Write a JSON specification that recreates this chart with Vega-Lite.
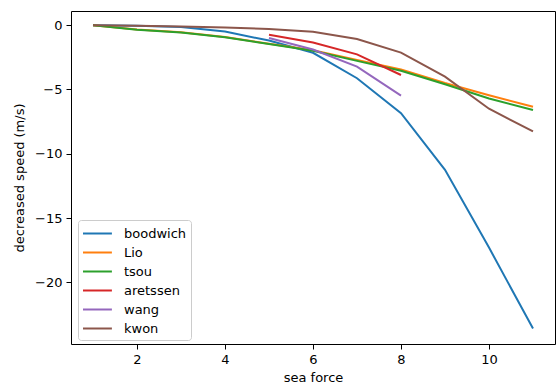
{
  "$schema": "https://vega.github.io/schema/vega-lite/v6.json",
  "width": 484,
  "height": 333,
  "autosize": "none",
  "padding": {"left": 71, "top": 11, "right": 1, "bottom": 39},
  "background": "white",
  "config": {
    "font": "DejaVu Sans",
    "view": {"stroke": "#000000", "strokeWidth": 1},
    "axis": {
      "grid": false,
      "domain": false,
      "tickColor": "#000000",
      "tickSize": 5,
      "tickWidth": 1,
      "labelFont": "DejaVu Sans",
      "labelFontSize": 13,
      "labelColor": "#000000",
      "titleFont": "DejaVu Sans",
      "titleFontSize": 13,
      "titleFontWeight": "normal",
      "titleColor": "#000000",
      "labelPadding": 4
    }
  },
  "data": {
    "values": [
      {"force": 1, "speed": 0, "author": "boodwich"},
      {"force": 2, "speed": -0.05, "author": "boodwich"},
      {"force": 3, "speed": -0.15, "author": "boodwich"},
      {"force": 4, "speed": -0.5, "author": "boodwich"},
      {"force": 5, "speed": -1.2, "author": "boodwich"},
      {"force": 6, "speed": -2.15, "author": "boodwich"},
      {"force": 7, "speed": -4.13, "author": "boodwich"},
      {"force": 8, "speed": -6.85, "author": "boodwich"},
      {"force": 9, "speed": -11.25, "author": "boodwich"},
      {"force": 10, "speed": -17.3, "author": "boodwich"},
      {"force": 11, "speed": -23.6, "author": "boodwich"},
      {"force": 1, "speed": 0, "author": "Lio"},
      {"force": 2, "speed": -0.33, "author": "Lio"},
      {"force": 3, "speed": -0.55, "author": "Lio"},
      {"force": 4, "speed": -0.93, "author": "Lio"},
      {"force": 5, "speed": -1.45, "author": "Lio"},
      {"force": 6, "speed": -1.95, "author": "Lio"},
      {"force": 7, "speed": -2.7, "author": "Lio"},
      {"force": 8, "speed": -3.45, "author": "Lio"},
      {"force": 9, "speed": -4.5, "author": "Lio"},
      {"force": 10, "speed": -5.45, "author": "Lio"},
      {"force": 11, "speed": -6.35, "author": "Lio"},
      {"force": 1, "speed": 0, "author": "tsou"},
      {"force": 2, "speed": -0.35, "author": "tsou"},
      {"force": 3, "speed": -0.58, "author": "tsou"},
      {"force": 4, "speed": -0.95, "author": "tsou"},
      {"force": 5, "speed": -1.47, "author": "tsou"},
      {"force": 6, "speed": -2.0, "author": "tsou"},
      {"force": 7, "speed": -2.78, "author": "tsou"},
      {"force": 8, "speed": -3.55, "author": "tsou"},
      {"force": 9, "speed": -4.6, "author": "tsou"},
      {"force": 10, "speed": -5.7, "author": "tsou"},
      {"force": 11, "speed": -6.6, "author": "tsou"},
      {"force": 5, "speed": -0.75, "author": "aretssen"},
      {"force": 6, "speed": -1.35, "author": "aretssen"},
      {"force": 7, "speed": -2.27, "author": "aretssen"},
      {"force": 8, "speed": -3.88, "author": "aretssen"},
      {"force": 5, "speed": -1.0, "author": "wang"},
      {"force": 6, "speed": -1.9, "author": "wang"},
      {"force": 7, "speed": -3.23, "author": "wang"},
      {"force": 8, "speed": -5.48, "author": "wang"},
      {"force": 1, "speed": 0, "author": "kwon"},
      {"force": 2, "speed": -0.05, "author": "kwon"},
      {"force": 3, "speed": -0.1, "author": "kwon"},
      {"force": 4, "speed": -0.18, "author": "kwon"},
      {"force": 5, "speed": -0.3, "author": "kwon"},
      {"force": 6, "speed": -0.52, "author": "kwon"},
      {"force": 7, "speed": -1.08, "author": "kwon"},
      {"force": 8, "speed": -2.14, "author": "kwon"},
      {"force": 9, "speed": -4.0, "author": "kwon"},
      {"force": 10, "speed": -6.5, "author": "kwon"},
      {"force": 11, "speed": -8.27, "author": "kwon"}
    ]
  },
  "mark": {"type": "line", "strokeWidth": 2, "clip": true},
  "encoding": {
    "x": {
      "field": "force",
      "type": "quantitative",
      "title": "sea force",
      "scale": {"domain": [0.5, 11.5], "nice": false, "zero": false},
      "axis": {"values": [2, 4, 6, 8, 10], "format": "d", "titlePadding": 5}
    },
    "y": {
      "field": "speed",
      "type": "quantitative",
      "title": "decreased speed (m/s)",
      "scale": {"domain": [-24.8, 1.1], "nice": false, "zero": false},
      "axis": {"values": [0, -5, -10, -15, -20], "format": "d", "titlePadding": 8}
    },
    "color": {
      "field": "author",
      "type": "nominal",
      "sort": ["boodwich", "Lio", "tsou", "aretssen", "wang", "kwon"],
      "scale": {
        "domain": ["boodwich", "Lio", "tsou", "aretssen", "wang", "kwon"],
        "range": ["#1f77b4", "#ff7f0e", "#2ca02c", "#d62728", "#9467bd", "#8c564b"]
      },
      "legend": {
        "title": null,
        "orient": "none",
        "legendX": 7,
        "legendY": 209,
        "symbolType": "M-1,0H2.4",
        "symbolSize": 289,
        "symbolStrokeWidth": 2,
        "labelFontSize": 13,
        "labelFont": "DejaVu Sans",
        "labelColor": "#000000",
        "rowPadding": 2,
        "labelOffset": 23,
        "padding": 4,
        "strokeColor": "#cccccc",
        "fillColor": "#ffffff",
        "cornerRadius": 3
      }
    }
  }
}
